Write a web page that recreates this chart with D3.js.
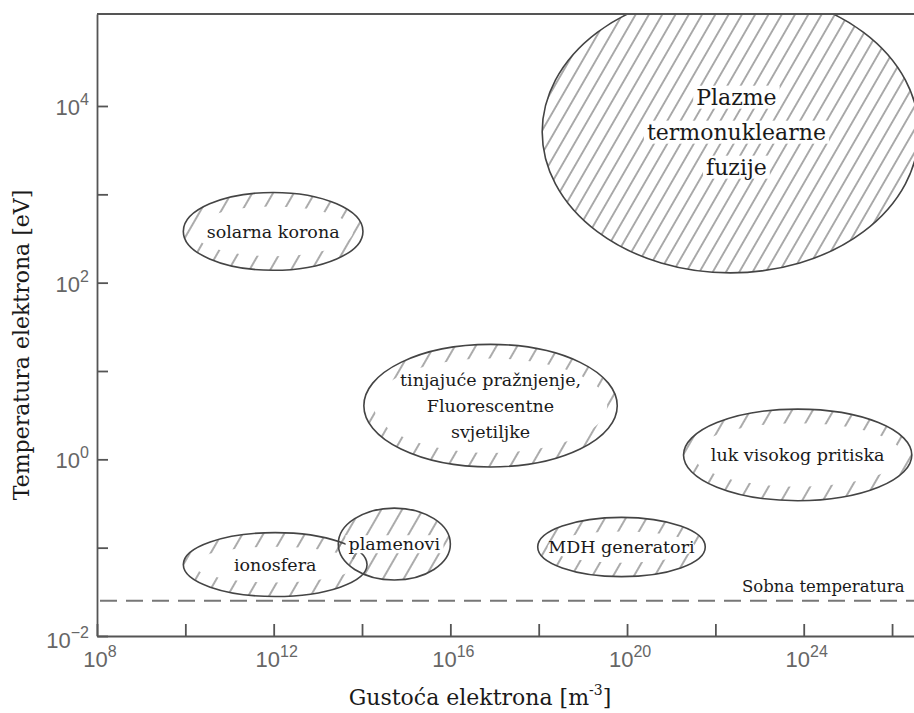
<!DOCTYPE html>
<html>
<head>
<meta charset="utf-8">
<script src="https://cdn.jsdelivr.net/npm/d3@7"></script>
<style>
  body { margin: 0; background: #fff; }
  .tick_lbl { font-family: "Liberation Sans", Arial, sans-serif; fill: #666; }
  .serif { font-family: "DejaVu Serif", serif; fill: #1a1a1a; }
</style>
</head>
<body>
<svg id="chart" width="914" height="713"></svg>
<script>
// plasma regions: electron density [m^-3] and electron temperature [eV]
var regionNames = ['solarna korona', 'Plazme termonuklearne fuzije', 'tinjajuće pražnjenje', 'luk visokog pritiska', 'ionosfera', 'plamenovi', 'MDH generatori'];
var regionLines = [
  ['solarna korona'],
  ['Plazme', 'termonuklearne', 'fuzije'],
  ['tinjajuće pražnjenje,', 'Fluorescentne', 'svjetiljke'],
  ['luk visokog pritiska'],
  ['ionosfera'],
  ['plamenovi'],
  ['MDH generatori']
];
var densityMin = [9e9, 1.2e18, 1.1e14, 1.9e21, 9e9, 2.9e13, 9.5e17];
var densityMax = [1.05e14, 4e26, 6e19, 2.8e26, 1.3e14, 1e16, 5.9e21];
var tempMin = [138, 129, 0.82, 0.34, 0.028, 0.043, 0.047];
var tempMax = [1050, 2.0e5, 20, 3.7, 0.148, 0.28, 0.22];

var roomTemp = 0.025;
var roomLabel = 'Sobna temperatura';

var xTickExp = [8, 10, 12, 14, 16, 18, 20, 22, 24, 26];
var xLabelExp = [8, 12, 16, 20, 24];
var yTickExp = [-2, -1, 0, 1, 2, 3, 4];
var yLabelExp = [-2, 0, 2, 4];

var xTitle = 'Gustoća elektrona [m';
var xTitleSup = '-3';
var yTitle = 'Temperatura elektrona [eV]';

(function() {
  var svg = d3.select('#chart');
  var plotLeft = 97, plotTop = 14, plotBottom = 636;
  var decade = 44.17;

  var x = d3.scaleLog().domain([1e8, 1e27]).range([plotLeft, plotLeft + 19 * decade]);
  var y = d3.scaleLog().domain([1e-2, 1.1e5]).range([plotBottom, plotTop]);
  var plotRight = x.range()[1];

  var defs = svg.append('defs');
  function hatch(id, step) {
    defs.append('pattern')
      .attr('id', id)
      .attr('patternUnits', 'userSpaceOnUse')
      .attr('width', step)
      .attr('height', step)
      .attr('patternTransform', 'rotate(30)')
      .append('line')
      .attr('x1', step / 2).attr('y1', 0)
      .attr('x2', step / 2).attr('y2', step)
      .attr('stroke', '#666')
      .attr('stroke-width', 1.1);
  }
  hatch('hatchDense', 11.5);
  hatch('hatchSparse', 18);

  defs.append('clipPath').attr('id', 'plotClip')
    .append('rect')
    .attr('x', plotLeft).attr('y', plotTop)
    .attr('width', plotRight - plotLeft).attr('height', plotBottom - plotTop);

  var plot = svg.append('g').attr('clip-path', 'url(#plotClip)');

  // full hatch for these, band of hatch near the rim for the others
  var fullHatch = { 'Plazme termonuklearne fuzije': 'hatchDense', 'plamenovi': 'hatchSparse' };

  var regions = regionNames.map(function(n, i) {
    var x0 = x(densityMin[i]), x1 = x(densityMax[i]);
    var y0 = y(tempMax[i]), y1 = y(tempMin[i]);
    return { name: n, lines: regionLines[i], cx: (x0 + x1) / 2, cy: (y0 + y1) / 2, rx: (x1 - x0) / 2, ry: (y1 - y0) / 2 };
  });

  regions.forEach(function(r) {
    var pat = fullHatch[r.name] || 'hatchSparse';
    plot.append('ellipse')
      .attr('cx', r.cx).attr('cy', r.cy)
      .attr('rx', r.rx).attr('ry', r.ry)
      .attr('fill', 'url(#' + pat + ')');
    if (!fullHatch[r.name]) {
      plot.append('ellipse')
        .attr('cx', r.cx).attr('cy', r.cy)
        .attr('rx', r.rx - 10).attr('ry', Math.max(r.ry - 14, 4))
        .attr('fill', '#fff');
    }
  });

  regions.forEach(function(r) {
    plot.append('ellipse')
      .attr('cx', r.cx).attr('cy', r.cy)
      .attr('rx', r.rx).attr('ry', r.ry)
      .attr('fill', 'none')
      .attr('stroke', '#444')
      .attr('stroke-width', 1.6);
  });

  // labels
  regions.forEach(function(r) {
    var big = r.name === 'Plazme termonuklearne fuzije';
    var fs = big ? 22 : 17.5;
    var lh = big ? 35 : 26;
    var n = r.lines.length;
    r.lines.forEach(function(line, k) {
      var ty = r.cy + (k - (n - 1) / 2) * lh + fs * 0.35;
      var t = svg.append('text')
        .attr('class', 'serif')
        .attr('x', r.cx + (big ? 6 : 0))
        .attr('y', ty)
        .attr('text-anchor', 'middle')
        .attr('font-size', fs)
        .text(line);
      if (fullHatch[r.name]) {
        var b = t.node().getBBox();
        svg.insert('rect', function() { return t.node(); })
          .attr('x', b.x - 3).attr('y', b.y + 1)
          .attr('width', b.width + 6).attr('height', b.height - 2)
          .attr('fill', '#fff');
      }
    });
  });

  // room temperature
  svg.append('line')
    .attr('x1', plotLeft + 3).attr('x2', plotRight)
    .attr('y1', y(roomTemp)).attr('y2', y(roomTemp))
    .attr('stroke', '#777')
    .attr('stroke-width', 2)
    .attr('stroke-dasharray', '17,9');
  svg.append('text')
    .attr('class', 'serif')
    .attr('x', x(4e22))
    .attr('y', y(roomTemp) - 9)
    .attr('font-size', 16.5)
    .text(roomLabel);

  // axes
  var xAxis = d3.axisBottom(x)
    .tickValues(xTickExp.map(function(e) { return Math.pow(10, e); }))
    .tickSizeInner(-12).tickSizeOuter(0)
    .tickFormat('');
  var yAxis = d3.axisLeft(y)
    .tickValues(yTickExp.map(function(e) { return Math.pow(10, e); }))
    .tickSizeInner(-11).tickSizeOuter(0)
    .tickFormat('');

  var gx = svg.append('g').attr('transform', 'translate(0,' + plotBottom + ')').call(xAxis);
  var gy = svg.append('g').attr('transform', 'translate(' + plotLeft + ',0)').call(yAxis);
  [gx, gy].forEach(function(g) {
    g.selectAll('path, line').attr('stroke', '#555').attr('stroke-width', 1.8);
  });
  svg.append('line')
    .attr('x1', plotLeft).attr('x2', plotRight)
    .attr('y1', plotTop).attr('y2', plotTop)
    .attr('stroke', '#555').attr('stroke-width', 1.8);

  xLabelExp.forEach(function(e) {
    var t = svg.append('text')
      .attr('class', 'tick_lbl')
      .attr('x', x(Math.pow(10, e)) + 3)
      .attr('y', plotBottom + 31)
      .attr('text-anchor', 'middle')
      .attr('font-size', 22);
    t.append('tspan').text('10');
    t.append('tspan').attr('dy', -10).attr('font-size', 16).text(e);
  });
  yLabelExp.forEach(function(e) {
    var t = svg.append('text')
      .attr('class', 'tick_lbl')
      .attr('x', plotLeft - 8)
      .attr('y', y(Math.pow(10, e)) + 9 + (e === -2 ? 3 : 0))
      .attr('text-anchor', 'end')
      .attr('font-size', 22);
    t.append('tspan').text('10');
    t.append('tspan').attr('dy', -10).attr('font-size', 16).text(e < 0 ? '\u2212' + (-e) : e);
  });

  // titles
  var xt = svg.append('text')
    .attr('class', 'serif')
    .attr('x', 480).attr('y', 705)
    .attr('text-anchor', 'middle')
    .attr('font-size', 22);
  xt.append('tspan').text(xTitle);
  xt.append('tspan').attr('dy', -10).attr('font-size', 14).text(xTitleSup);
  xt.append('tspan').attr('dy', 10).text(']');

  svg.append('text')
    .attr('class', 'serif')
    .attr('transform', 'translate(29,345) rotate(-90)')
    .attr('text-anchor', 'middle')
    .attr('font-size', 22)
    .text(yTitle);
})();
</script>
</body>
</html>
